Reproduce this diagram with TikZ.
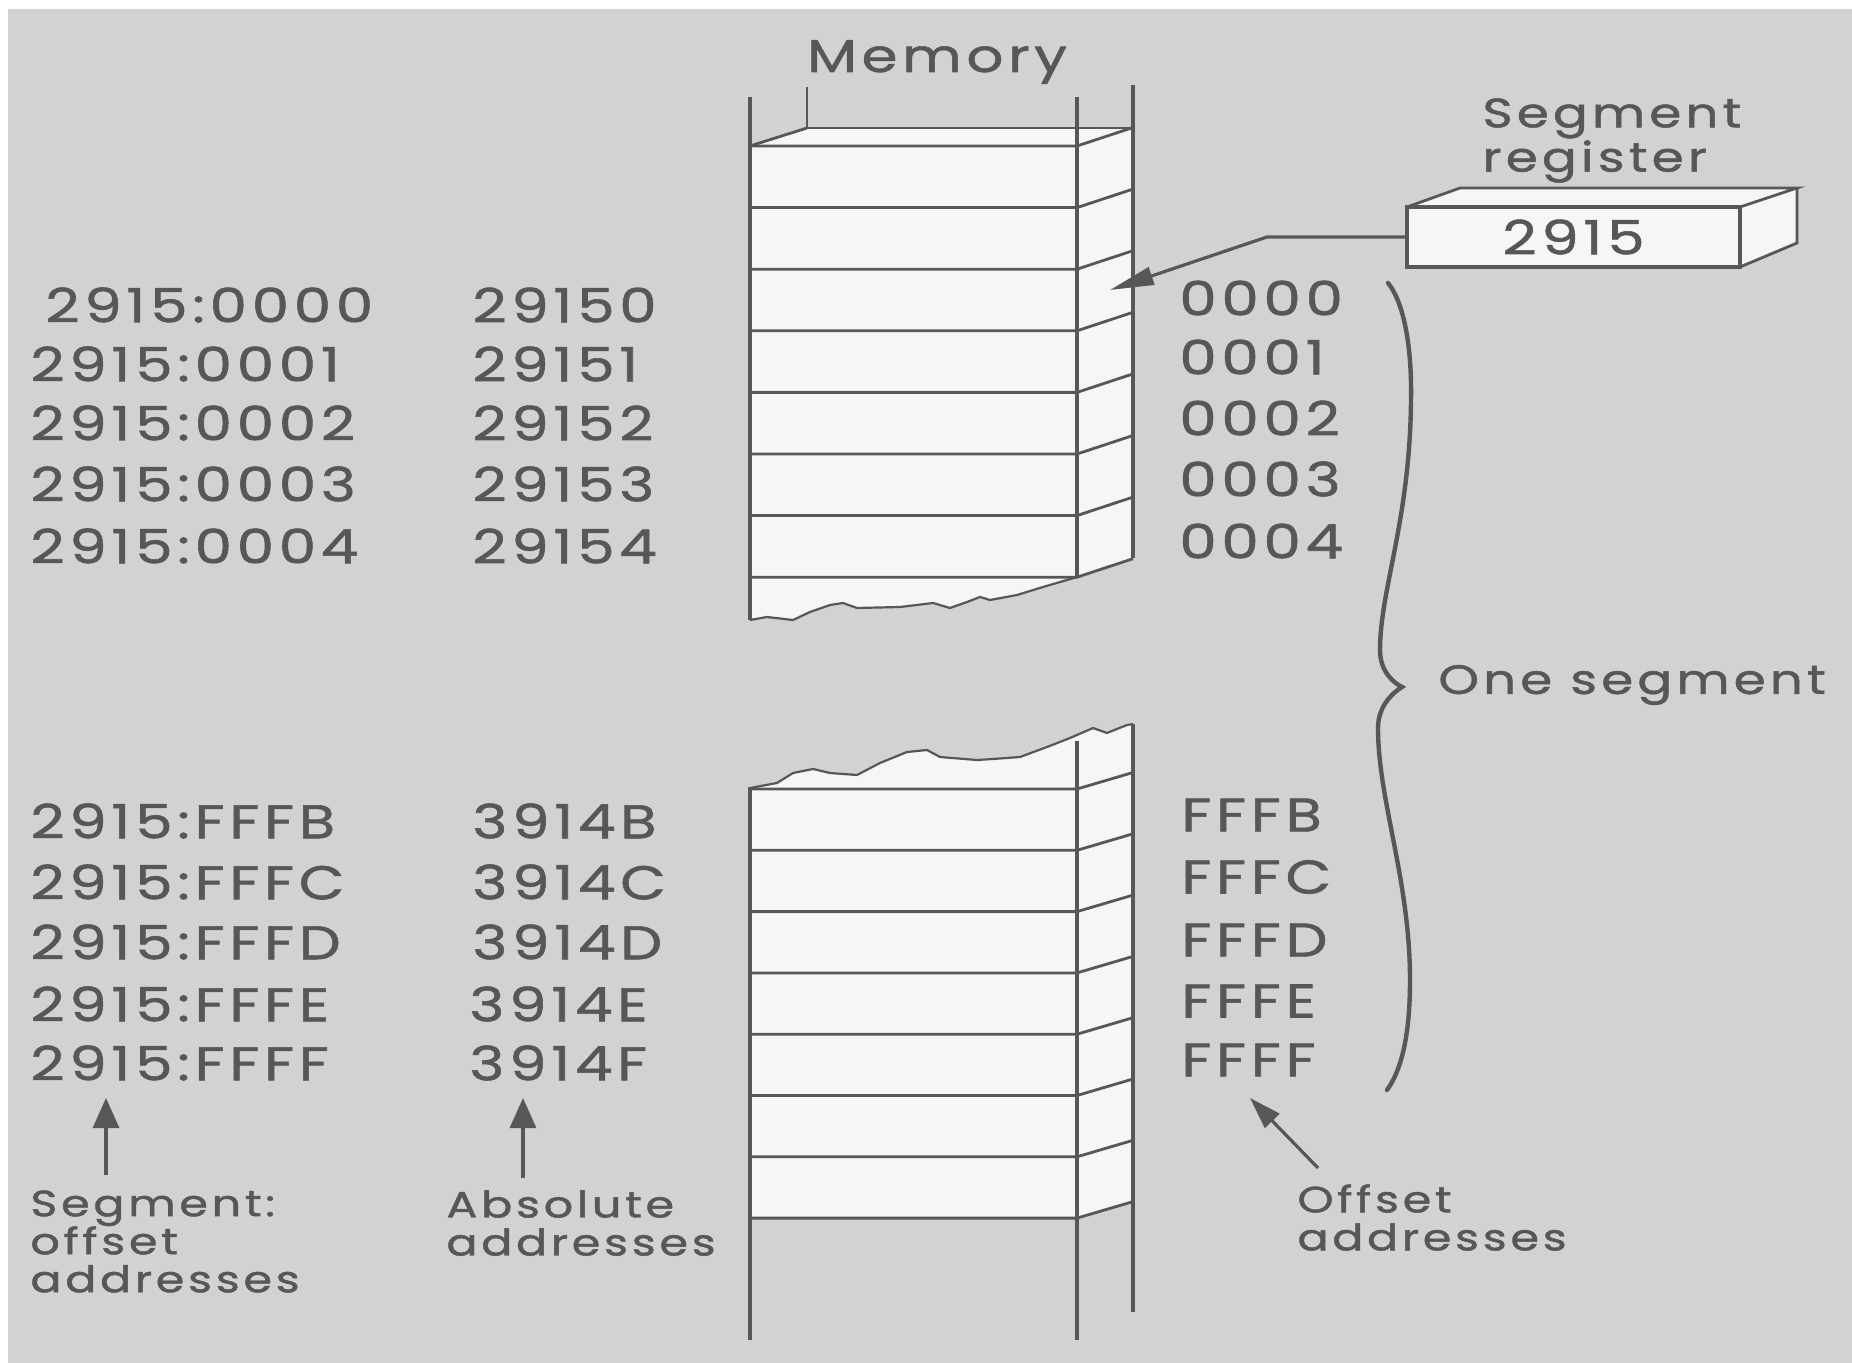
\documentclass[tikz,border=0pt]{standalone}
\usepackage{fontspec}
\setmainfont{Poppins}[FakeStretch=1.26,LetterSpace=10,FakeBold=1.2]
\usetikzlibrary{arrows.meta}
\definecolor{bg}{HTML}{D2D2D2}
\definecolor{ink}{HTML}{575757}
\definecolor{cell}{HTML}{F6F6F6}
\begin{document}
\begin{tikzpicture}[x=0.5pt,y=-0.5pt,
  memline/.style={draw=ink, line width=2pt},
  rowline/.style={draw=ink, line width=1.4pt},
  tearline/.style={draw=ink, line width=1.1pt, line join=round},
  addr/.style={text=ink, font=\fontsize{23.6}{26}\selectfont, inner sep=0pt, anchor=west},
  lbl/.style={text=ink, font=\fontsize{18.3}{19}\selectfont, inner sep=0pt, align=left, anchor=north west},
  biglbl/.style={text=ink, font=\fontsize{20.5}{21}\selectfont, inner sep=0pt},
  ptr/.style={draw=ink, line width=1.6pt, -{Triangle[length=15pt,width=13pt]}},
]
\useasboundingbox (0,0) rectangle (1852,1363);
\fill[white] (0,0) rectangle (1852,1363);
\fill[bg] (8,9) rectangle (1852,1363);

% ---------- upper memory block ----------
\fill[cell] (750,146) -- (807,128) -- (1133,128) -- (1133,558) -- (1077,577)
  -- (1067,580) -- (1043,587) -- (1017,595) -- (990,600) -- (980,597) -- (967,602)
  -- (950,608) -- (933,603) -- (900,607) -- (857,608) -- (843,603) -- (830,605)
  -- (810,612) -- (793,620) -- (767,617) -- (750,620) -- cycle;
\draw[memline] (750,97) -- (750,620);
\draw[memline] (1077,97) -- (1077,577);
\draw[memline] (1133,85) -- (1133,558);
\draw[rowline] (807,87) -- (807,128) -- (1133,128);
\draw[rowline] (750,146) -- (807,128);
\foreach \y in {146,207.6,269.2,330.8,392.4,454,515.6,577.2}
  \draw[rowline] (750,\y) -- (1077,\y) -- (1133,\y-18.5);
\draw[tearline] (750,620) -- (767,617) -- (793,620) -- (810,612) -- (830,605) -- (843,603)
  -- (857,608) -- (900,607) -- (933,603) -- (950,608) -- (967,602) -- (980,597)
  -- (990,600) -- (1017,595) -- (1043,587) -- (1067,580) -- (1077,577);

% ---------- lower memory block ----------
\fill[cell] (750,788) -- (777,783) -- (793,773) -- (813,769) -- (830,773) -- (857,775)
  -- (880,763) -- (907,752) -- (927,750) -- (940,757) -- (977,760) -- (993,759)
  -- (1020,757) -- (1047,747) -- (1070,738) -- (1093,728) -- (1107,733) -- (1127,725)
  -- (1133,724) -- (1133,1201.6) -- (1077,1218.1) -- (750,1218.1) -- cycle;
\draw[memline] (750,787) -- (750,1340);
\draw[memline] (1077,741) -- (1077,1340);
\draw[memline] (1133,724) -- (1133,1312);
\foreach \y in {789,850.3,911.6,972.9,1034.2,1095.5,1156.8,1218.1}
  \draw[rowline] (750,\y) -- (1077,\y) -- (1133,\y-16.5);
\draw[tearline] (750,788) -- (777,783) -- (793,773) -- (813,769) -- (830,773) -- (857,775)
  -- (880,763) -- (907,752) -- (927,750) -- (940,757) -- (977,760) -- (993,759)
  -- (1020,757) -- (1047,747) -- (1070,738) -- (1093,728) -- (1107,733) -- (1127,725)
  -- (1133,724);

\node[text=ink, font=\fontsize{23}{24}\selectfont, inner sep=0pt] (memlbl) at (937,62) {Memory};

% ---------- segment register ----------
\fill[cell] (1407,207) -- (1460,188) -- (1797,188) -- (1797,243) -- (1740,267) -- (1407,267) -- cycle;
\draw[rowline] (1407,207) -- (1460,188) -- (1797,188) -- (1740,207);
\draw[rowline] (1797,188) -- (1797,243) -- (1740,267);
\node[draw=ink, line width=1.8pt, fill=cell, minimum width=166.5pt, minimum height=30pt,
      inner sep=0pt, text=ink, font=\fontsize{23.6}{26}\selectfont] (reg) at (1573.5,237) {2915};
\node[biglbl, align=left, anchor=north west] (reglbl) at (1482,98) {Segment\\register};
\coordinate (regtip) at (1110,290);
\draw[ink, line width=1.6pt, -{Triangle[length=22pt,width=9pt]}] (reg.west) -- (1267,237) -- (regtip);

% ---------- address columns ----------
\node[addr] (so0) at (45,305) {2915:0000};
\node[addr] (so1) at (30,364) {2915:0001};
\node[addr] (so2) at (30,423) {2915:0002};
\node[addr] (so3) at (30,484) {2915:0003};
\node[addr] (so4) at (30,546) {2915:0004};
\node[addr] (so5) at (30,821) {2915:FFFB};
\node[addr] (so6) at (30,882) {2915:FFFC};
\node[addr] (so7) at (30,942) {2915:FFFD};
\node[addr] (so8) at (30,1004) {2915:FFFE};
\node[addr] (so9) at (30,1063) {2915:FFFF};

\node[addr] (ab0) at (472,305) {29150};
\node[addr] (ab1) at (472,364) {29151};
\node[addr] (ab2) at (472,423) {29152};
\node[addr] (ab3) at (472,484) {29153};
\node[addr] (ab4) at (472,546) {29154};
\node[addr] (ab5) at (472,821) {3914B};
\node[addr] (ab6) at (472,882) {3914C};
\node[addr] (ab7) at (472,942) {3914D};
\node[addr] (ab8) at (469,1004) {3914E};
\node[addr] (ab9) at (469,1063) {3914F};

\node[addr] (of0) at (1179,298) {0000};
\node[addr] (of1) at (1179,357) {0001};
\node[addr] (of2) at (1179,418) {0002};
\node[addr] (of3) at (1179,479) {0003};
\node[addr] (of4) at (1179,541) {0004};
\node[addr] (of5) at (1181,815) {FFFB};
\node[addr] (of6) at (1181,877) {FFFC};
\node[addr] (of7) at (1181,940) {FFFD};
\node[addr] (of8) at (1181,1001) {FFFE};
\node[addr] (of9) at (1181,1060) {FFFF};

% ---------- brace ----------
\draw[ink, line width=2.2pt, line cap=round]
  (1388,283) .. controls (1402,300) and (1412,340) .. (1411,400)
  .. controls (1410,520) and (1380,590) .. (1380,650)
  .. controls (1380,672) and (1394,683) .. (1402,687)
  .. controls (1394,692) and (1378,705) .. (1378,728)
  .. controls (1378,800) and (1410,880) .. (1410,980)
  .. controls (1410,1040) and (1400,1072) .. (1387,1090);
\node[biglbl, anchor=west] (seglbl) at (1438,685) {One segment};

% ---------- bottom labels ----------
\node[lbl] (solbl) at (30,1190) {Segment:\\offset\\addresses};
\node[lbl] (ablbl) at (446,1190) {Absolute\\addresses};
\node[lbl] (oflbl) at (1297,1184) {Offset\\addresses};
\coordinate (soT) at (106,1175);
\coordinate (soH) at (106,1098);
\coordinate (abT) at (523,1178);
\coordinate (abH) at (523,1098);
\coordinate (ofT) at (1318,1168);
\coordinate (ofH) at (1250,1098);
\draw[ptr] (soT) -- (soH);
\draw[ptr] (abT) -- (abH);
\draw[ink, line width=1.6pt, -{Triangle[length=16pt,width=10pt]}] (ofT) -- (ofH);
\end{tikzpicture}
\end{document}
